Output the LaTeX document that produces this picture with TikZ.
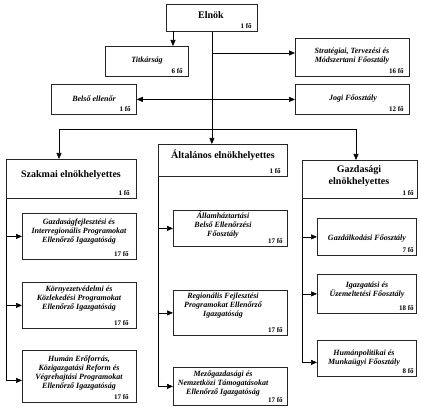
\documentclass[tikz,border=0pt]{standalone}
\usepackage{fontspec}
\setmainfont{Liberation Serif}
\usetikzlibrary{arrows.meta}
\begin{document}
\begin{tikzpicture}[x=1pt,y=-1pt,
 ubox/.style={draw=black!85, line width=0.8pt, anchor=north west, inner sep=0pt, fill=white},
 ttl/.style={font=\bfseries\fontsize{10}{12}\selectfont, align=center, inner sep=0pt},
 itl/.style={font=\bfseries\itshape\fontsize{8}{9}\selectfont, align=center, inner sep=0pt},
 cnt/.style={font=\bfseries\fontsize{7}{8}\selectfont, inner sep=0pt, anchor=south east},
 conn/.style={line width=0.6pt},
 arr/.style={conn, -{Triangle[length=6pt,width=5pt]}},
 arr2/.style={conn, {Triangle[length=6pt,width=5pt]}-{Triangle[length=6pt,width=5pt]}}]
\useasboundingbox (0,0) rectangle (421,417);

% top level
\node[ubox, minimum width=91pt, minimum height=27pt] (elnok) at (166,4) {};
\node[ttl] (elnokt) at (211,15) {Elnök};
\node[cnt] (elnokc) at ([xshift=-6pt,yshift=3pt]elnok.south east) {1 fő};

\node[ubox, minimum width=83pt, minimum height=30pt] (titk) at (105,46) {};
\node[itl] (titkt) at (147,61) {Titkárság};
\node[cnt] (titkc) at ([xshift=-6pt,yshift=3pt]titk.south east) {6 fő};

\node[ubox, minimum width=114pt, minimum height=38pt] (strat) at (295,38) {};
\node[itl] (stratt) at (352,56) {Stratégiai, Tervezési és\\Módszertani Főosztály};
\node[cnt] (stratc) at ([xshift=-6pt,yshift=3pt]strat.south east) {16 fő};

\node[ubox, minimum width=85pt, minimum height=30pt] (belso) at (51,84) {};
\node[itl] (belsot) at (94,99) {Belső ellenőr};
\node[cnt] (belsoc) at ([xshift=-6pt,yshift=3pt]belso.south east) {1 fő};

\node[ubox, minimum width=114pt, minimum height=30pt] (jogi) at (295,84) {};
\node[itl] (jogit) at (353,99) {Jogi Főosztály};
\node[cnt] (jogic) at ([xshift=-6pt,yshift=3pt]jogi.south east) {12 fő};

% deputies
\node[ubox, minimum width=130pt, minimum height=39pt] (szak) at (6,159) {};
\node[ttl] (szakt) at (71,175) {Szakmai elnökhelyettes};
\node[cnt] (szakc) at ([xshift=-7pt,yshift=3pt]szak.south east) {1 fő};

\node[ubox, minimum width=129pt, minimum height=32pt] (alt) at (158,144) {};
\node[ttl] (altt) at (223,155) {Általános elnökhelyettes};
\node[cnt] (altc) at ([xshift=-7pt,yshift=3pt]alt.south east) {1 fő};

\node[ubox, minimum width=115pt, minimum height=38pt] (gazd) at (302,160) {};
\node[ttl, font=\bfseries\fontsize{10}{12}\selectfont] (gazdt) at (359,176) {Gazdasági\\elnökhelyettes};
\node[cnt] (gazdc) at ([xshift=-4pt,yshift=3pt]gazd.south east) {1 fő};

% left column
\node[ubox, minimum width=114pt, minimum height=46pt] (l1) at (22,213) {};
\node[itl] (l1t) at (79,232) {Gazdaságfejlesztési és\\Interregionális Programokat\\Ellenőrző Igazgatóság};
\node[cnt] (l1c) at ([xshift=-8pt,yshift=3pt]l1.south east) {17 fő};

\node[ubox, minimum width=114pt, minimum height=46pt] (l2) at (22,282) {};
\node[itl] (l2t) at (79,299) {Környezetvédelmi és\\Közlekedési Programokat\\Ellenőrző Igazgatóság};
\node[cnt] (l2c) at ([xshift=-8pt,yshift=3pt]l2.south east) {17 fő};

\node[ubox, minimum width=114pt, minimum height=52pt] (l3) at (22,350) {};
\node[itl] (l3t) at (79,373) {Humán Erőforrás,\\Közigazgatási Reform és\\Végrehajtási Programokat\\Ellenőrző Igazgatóság};
\node[cnt] (l3c) at ([xshift=-8pt,yshift=3pt]l3.south east) {17 fő};

% middle column
\node[ubox, minimum width=114pt, minimum height=36pt] (m1) at (173,210) {};
\node[itl] (m1t) at (223,225) {Államháztartási\\Belső Ellenőrzési\\Főosztály};
\node[cnt] (m1c) at ([xshift=-5pt,yshift=3pt]m1.south east) {17 fő};

\node[ubox, minimum width=114pt, minimum height=45pt] (m2) at (173,290) {};
\node[itl] (m2t) at (223,306) {Regionális Fejlesztési\\Programokat Ellenőrző\\Igazgatóság};
\node[cnt] (m2c) at ([xshift=-5pt,yshift=3pt]m2.south east) {17 fő};

\node[ubox, minimum width=114pt, minimum height=38pt] (m3) at (173,367) {};
\node[itl] (m3t) at (223,384) {Mezőgazdasági és\\Nemzetközi Támogatásokat\\Ellenőrző Igazgatóság};
\node[cnt] (m3c) at ([xshift=-5pt,yshift=3pt]m3.south east) {17 fő};

% right column
\node[ubox, minimum width=99pt, minimum height=37pt] (r1) at (317,218) {};
\node[itl] (r1t) at (367,239) {Gazdálkodási Főosztály};
\node[cnt] (r1c) at ([xshift=-3pt,yshift=3pt]r1.south east) {7 fő};

\node[ubox, minimum width=99pt, minimum height=39pt] (r2) at (317,274) {};
\node[itl] (r2t) at (367,290) {Igazgatási és\\Üzemeltetési Főosztály};
\node[cnt] (r2c) at ([xshift=-3pt,yshift=3pt]r2.south east) {18 fő};

\node[ubox, minimum width=99pt, minimum height=36pt] (r3) at (317,340) {};
\node[itl] (r3t) at (364,358) {Humánpolitikai és\\Munkaügyi Főosztály};
\node[cnt] (r3c) at ([xshift=-3pt,yshift=3pt]r3.south east) {8 fő};

% connectors
\coordinate (ta) at (173,31);
\coordinate (sy) at (0,53);
\coordinate (bl) at (59,129);
\coordinate (br) at (356,129);
\draw[arr] (ta) -- (ta |- titk.north);
\draw[arr] (elnok.south) -- (elnok.south |- alt.north);
\draw[arr] (elnok.south |- sy) -- (strat.west |- sy);
\draw[arr2] (belso.east) -- (jogi.west);
\draw[conn] (bl) -- (br);
\draw[arr] (bl) -- (bl |- szak.north);
\draw[arr] (br) -- (br |- gazd.north);

\draw[arr] (szak.south west) |- (l1.west);
\draw[arr] (szak.south west) |- (l2.west);
\draw[arr] (szak.south west) |- ([yshift=-4pt]l3.west);

\draw[arr] (alt.south west) |- (m1.west);
\draw[arr] (alt.south west) |- (m2.west);
\draw[arr] (alt.south west) |- (m3.west);

\draw[arr] (gazd.south west) |- (r1.west);
\draw[arr] (gazd.south west) |- (r2.west);
\draw[arr] (gazd.south west) |- ([yshift=-4pt]r3.west);
\end{tikzpicture}
\end{document}
